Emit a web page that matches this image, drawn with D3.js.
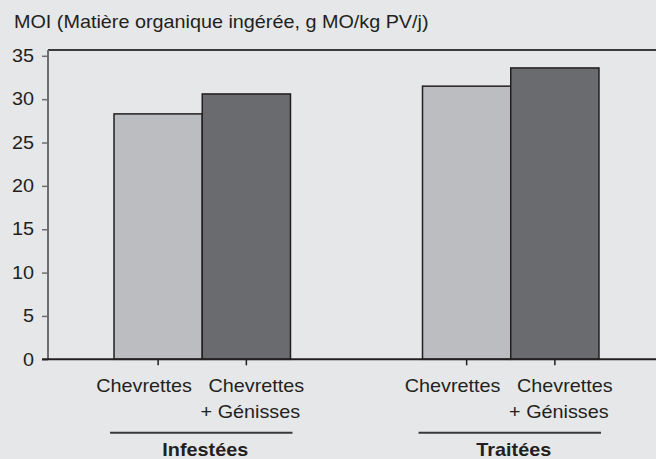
<!DOCTYPE html>
<html>
<head>
<meta charset="utf-8">
<script src="https://cdn.jsdelivr.net/npm/d3@7"></script>
<style>
  body { margin: 0; background: #e6e7e8; }
  text { font-family: "Liberation Sans", Arial, sans-serif; fill: #231f20; }
</style>
</head>
<body>
<svg id="chart"></svg>
<script>
var width = 656, height = 459;

// data
var groups = ["Infestées", "Traitées"];
var lots = ["Chevrettes", "Chevrettes\n+ Génisses"];
var moi = [[28.3, 30.6], [31.5, 33.6]];
var yTicks = [0, 5, 10, 15, 20, 25, 30, 35];
var title = "MOI (Matière organique ingérée, g MO/kg PV/j)";

var colors = ["#bcbdc0", "#6a6b6e"];
var fs = 18;
var sx = 1.1; // the original type is a little wider than Arial

var margin = {left: 48, top: 50, bottom: 359};

var svg = d3.select("#chart")
    .attr("width", width)
    .attr("height", height);

svg.append("rect")
    .attr("width", width)
    .attr("height", height)
    .attr("fill", "#e6e7e8");

var x0 = d3.scaleBand()
    .domain(groups)
    .range([margin.left, 665])
    .paddingInner(0.428)
    .paddingOuter(0.214);

var x1 = d3.scaleBand()
    .domain(d3.range(lots.length))
    .range([0, x0.bandwidth()]);

var y = d3.scaleLinear()
    .domain([0, 35])
    .range([359.3, 55.8]);

function wideText(sel, x, yy) {
    return sel.attr("transform", "translate(" + x + "," + yy + ") scale(" + sx + ",1)");
}

// title
wideText(svg.append("text"), 14, 27.5)
    .attr("font-size", fs)
    .text(title);

// top frame line
svg.append("line")
    .attr("x1", margin.left).attr("x2", width)
    .attr("y1", margin.top).attr("y2", margin.top)
    .attr("stroke", "#3a3a3c")
    .attr("stroke-width", 2);

// bars
var g = svg.append("g")
    .selectAll("g")
    .data(groups)
    .enter().append("g")
    .attr("transform", function(d) { return "translate(" + x0(d) + ",0)"; });

g.selectAll("rect")
    .data(function(d, i) { return moi[i]; })
    .enter().append("rect")
    .attr("x", function(d, j) { return x1(j); })
    .attr("y", function(d) { return y(d); })
    .attr("width", x1.bandwidth())
    .attr("height", function(d) { return y(0) - y(d); })
    .attr("fill", function(d, j) { return colors[j]; })
    .attr("stroke", "#231f20")
    .attr("stroke-width", 1.5);

// y axis
var yAxis = svg.append("g")
    .attr("transform", "translate(" + margin.left + ",0)")
    .call(d3.axisLeft(y).tickValues(yTicks).tickSize(6).tickPadding(8).tickSizeOuter(0));

yAxis.select(".domain")
    .attr("stroke", "#6d6e71")
    .attr("stroke-width", 2)
    .attr("d", "M0," + margin.top + "V" + y(0));
yAxis.selectAll(".tick line").attr("stroke", "#6d6e71").attr("stroke-width", 1.5);
yAxis.selectAll(".tick text")
    .attr("font-size", fs)
    .attr("font-family", "Liberation Sans, Arial, sans-serif")
    .attr("fill", "#231f20")
    .attr("x", -14 / sx)
    .attr("transform", "scale(" + sx + ",1)");

// baseline
svg.append("line")
    .attr("x1", margin.left - 6).attr("x2", width)
    .attr("y1", y(0)).attr("y2", y(0))
    .attr("stroke", "#231f20")
    .attr("stroke-width", 2);

// x ticks at the bar centres
g.selectAll("line.xt")
    .data(lots)
    .enter().append("line")
    .attr("class", "xt")
    .attr("x1", function(d, j) { return x1(j) + x1.bandwidth() / 2; })
    .attr("x2", function(d, j) { return x1(j) + x1.bandwidth() / 2; })
    .attr("y1", y(0)).attr("y2", y(0) + 6)
    .attr("stroke", "#231f20")
    .attr("stroke-width", 1.5);

// category labels, a little spread away from the bar centres
var labelShift = [-14, 10];
g.each(function() {
    var grp = d3.select(this);
    lots.forEach(function(lab, j) {
        var cx = x1(j) + x1.bandwidth() / 2 + labelShift[j];
        lab.split("\n").forEach(function(line, k) {
            wideText(grp.append("text"), cx - (k > 0 ? 6 : 0), 391.5 + k * 26)
                .attr("font-size", fs)
                .attr("text-anchor", "middle")
                .text(line);
        });
    });
});

// group underline and name
g.append("line")
    .attr("x1", x1(0) - 4)
    .attr("x2", x1(lots.length - 1) + x1.bandwidth() + 2)
    .attr("y1", 432.7).attr("y2", 432.7)
    .attr("stroke", "#3a3a3c")
    .attr("stroke-width", 2);

g.append("text")
    .each(function(d) {
        wideText(d3.select(this), x0.bandwidth() / 2 + 3, 456);
    })
    .attr("font-size", fs)
    .attr("font-weight", "bold")
    .attr("text-anchor", "middle")
    .text(function(d) { return d; });
</script>
</body>
</html>
